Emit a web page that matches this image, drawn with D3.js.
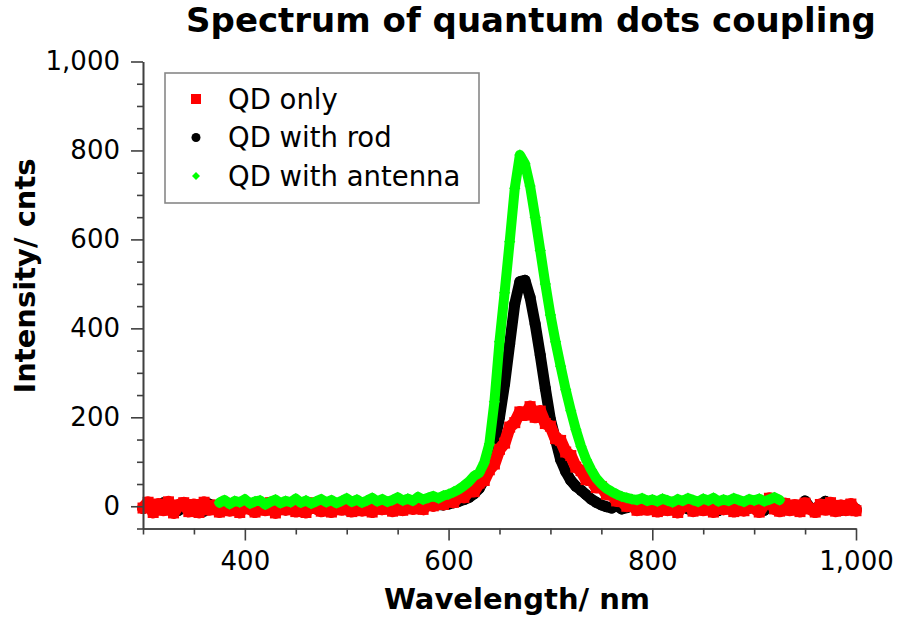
<!DOCTYPE html>
<html>
<head>
<meta charset="utf-8">
<script src="https://cdn.jsdelivr.net/npm/d3@7"></script>
<style>
  html, body { margin: 0; padding: 0; background: #fff; }
  svg { display: block; font-family: "DejaVu Sans", Verdana, sans-serif; }
</style>
</head>
<body>
<svg id="chart" width="899" height="622"></svg>
<script>
// ---- Data ----
const seriesNames = ["QD only", "QD with rod", "QD with antenna"];
const sampleStep = 5; // nm between samples
const redStart = 300, blackStart = 300, greenStart = 375;

// QD only (red squares), 300..1000 nm
const redValues = [
  -4, 9, -14, 5, -9, 10, -15, 3, 8, -12,
  4, -14, 9, -8, 2, -13, 7, -10, 3, -14,
  7, -6, -13, 5, -9, 8, -15, 2, -8, 6,
  -12, 3, -14, 7, -5, -11, 5, -13, 4, -8,
  8, -12, 2, -10, 6, -13, 4, -7, 8, -11,
  3, -9, 9, -6, 5, -7, 8, 1, 11, 4,
  13, 9, 22, 20, 34, 33, 52, 58, 82, 95,
  128, 142, 178, 188, 212, 205, 224, 200, 214, 186,
  180, 152, 148, 122, 114, 88, 80, 60, 58, 42,
  44, 27, 26, 12, 11, 0, 3, -9, 5, -8,
  6, -12, 3, -9, 8, -14, 0, 7, -11, 4,
  -9, 7, -13, 2, -7, 6, -12, 4, -10, 7,
  -4, -13, 5, 18, -6, -11, 6, -9, 3, -12,
  7, -6, -13, 4, -8, 8, -11, 2, -9, 5, -10
];

// QD with rod (black circles), 300..1000 nm
const blackValues = [
  -5, 2, -10, -3, 8, -6, -1, -9, 3, -4,
  -7, 0, -11, 5, -3, -8, 1, -6, -2, -9,
  4, -5, -10, -1, 2, -7, -3, 6, -8, -4,
  0, -9, -2, 3, -6, -10, -1, 5, -5, -3,
  -8, 1, -4, -9, 2, -6, 0, -3, 4, -7,
  -2, 0, -5, 3, -1, 2, 5, 1, 4, 3,
  5, 8, 11, 15, 20, 28, 40, 60, 92, 140,
  200, 275, 365, 455, 505, 508, 470, 410, 340, 265,
  195, 150, 105, 78, 58, 45, 36, 26, 16, 9,
  3, -1, -4, 2, -6, -3, 1, -7, -2, 4,
  -5, 0, -8, 3, -3, -9, 1, -6, 10, -2,
  -7, 2, -4, -10, 0, -5, 3, -8, -1, -4,
  2, -6, -9, 0, -3, 5, -7, -2, 1, -8,
  12, -4, -6, 3, 11, -5, -1, -9, 2, -3, -6
];

// QD with antenna (green diamonds), 375..925 nm
const greenValues = [
  8, 14, 5, 12, 9, 16, 6, 11, 13, 4,
  10, 15, 7, 12, 9, 17, 8, 13, 6, 11,
  16, 9, 14, 7, 12, 18, 10, 15, 8, 13,
  19, 11, 16, 10, 14, 20, 13, 17, 12, 21,
  15, 19, 23, 18, 24,
  27, 32, 38, 46, 55, 68, 75, 98, 140, 235,
  370, 480, 595, 715, 790, 770, 720, 650, 575, 500,
  430, 370, 315, 262, 215, 172, 135, 105, 82, 63,
  50, 40, 33, 27, 22, 19, 16, 14, 18, 12,
  15, 11, 17, 13, 9, 16, 12, 18, 14, 10,
  17, 13, 19, 11, 15, 12, 18, 14, 10, 16,
  13, 17, 11, 15, 20, 14
];

const xMajorTicks = [400, 600, 800, 1000];
const yMajorTicks = [0, 200, 400, 600, 800, 1000];
const titleText = "Spectrum of quantum dots coupling";
const xTitle = "Wavelength/ nm";
const yTitle = "Intensity/ cnts";

// ---- Build ----
const toPoints = (start, vals) => vals.map((v, i) => ({ x: start + i * sampleStep, y: v }));
const series = [
  { name: seriesNames[1], color: "#000000", shape: "circle", lw: 11, pts: toPoints(blackStart, blackValues) },
  { name: seriesNames[0], color: "#ff0000", shape: "square", lw: 12, pts: toPoints(redStart, redValues) },
  { name: seriesNames[2], color: "#00ff00", shape: "diamond", lw: 10, pts: toPoints(greenStart, greenValues) }
];

const svg = d3.select("#chart");
const x = d3.scaleLinear().domain([300, 1000]).range([143, 856]);
const y = d3.scaleLinear().domain([-50, 1000]).range([528.5, 61.5]);
const axisColor = "#404040";

// Plot series
const line = d3.line().x(d => x(d.x)).y(d => y(d.y)).curve(d3.curveLinear);
const plot = svg.append("g");
function drawMarker(sel, shape, color) {
  if (shape === "square") {
    sel.append("rect").attr("x", -5.5).attr("y", -5.5).attr("width", 11).attr("height", 11).attr("fill", color);
  } else if (shape === "circle") {
    sel.append("circle").attr("r", 5.5).attr("fill", color);
  } else {
    sel.append("path").attr("d", d3.symbol().type(d3.symbolSquare).size(64)()).attr("transform", "rotate(45)").attr("fill", color);
  }
}
series.forEach(s => {
  plot.append("path").datum(s.pts)
    .attr("d", line).attr("fill", "none").attr("stroke", s.color)
    .attr("stroke-width", s.lw)
    .attr("stroke-linejoin", "round").attr("stroke-linecap", "round");
  const g = plot.append("g");
  s.pts.forEach(p => {
    const m = g.append("g").attr("transform", `translate(${x(p.x)},${y(p.y)})`);
    drawMarker(m, s.shape, s.color);
  });
});

// Axes
function styleAxis(g) {
  g.selectAll("path.domain").attr("stroke", axisColor).attr("stroke-width", 1.6);
  g.selectAll(".tick line").attr("stroke", axisColor).attr("stroke-width", 1.6);
  g.selectAll(".tick text").attr("fill", "#000").attr("font-size", 26).attr("font-family", "DejaVu Sans, Verdana, sans-serif");
}
const yMinor = d3.range(-50, 1001, 50).filter(v => !yMajorTicks.includes(v));
const xMinor = d3.range(300, 1001, 50).filter(v => !xMajorTicks.includes(v));

svg.append("g").attr("transform", "translate(143,0)")
  .call(d3.axisLeft(y).tickValues(yMinor).tickSize(6).tickSizeOuter(0).tickFormat(""))
  .call(styleAxis);
svg.append("g").attr("transform", "translate(143,0)")
  .call(d3.axisLeft(y).tickValues(yMajorTicks).tickSize(12).tickSizeOuter(0).tickPadding(11).tickFormat(d3.format(",")))
  .call(styleAxis);
svg.append("g").attr("transform", "translate(0,528.5)")
  .call(d3.axisBottom(x).tickValues(xMinor).tickSize(6).tickSizeOuter(0).tickFormat(""))
  .call(styleAxis);
svg.append("g").attr("transform", "translate(0,528.5)")
  .call(d3.axisBottom(x).tickValues(xMajorTicks).tickSize(12).tickSizeOuter(0).tickPadding(11).tickFormat(d3.format(",")))
  .call(styleAxis);

// Titles
svg.append("text").attr("x", 531).attr("y", 32).attr("text-anchor", "middle")
  .attr("font-size", 34).attr("font-weight", "bold").text(titleText);
svg.append("text").attr("x", 517).attr("y", 609).attr("text-anchor", "middle")
  .attr("font-size", 29).attr("font-weight", "bold").text(xTitle);
svg.append("text").attr("transform", "translate(35,276) rotate(-90)").attr("text-anchor", "middle")
  .attr("font-size", 29).attr("font-weight", "bold").text(yTitle);

// Legend
const legend = svg.append("g");
legend.append("rect").attr("x", 165).attr("y", 73).attr("width", 314).attr("height", 130)
  .attr("fill", "#fff").attr("stroke", "#888").attr("stroke-width", 1.6);
const legendOrder = [
  { name: seriesNames[0], color: "#ff0000", shape: "square" },
  { name: seriesNames[1], color: "#000000", shape: "circle" },
  { name: seriesNames[2], color: "#00ff00", shape: "diamond" }
];
legendOrder.forEach((d, i) => {
  const cy = 99 + i * 38.5;
  const m = legend.append("g").attr("transform", `translate(196,${cy})`);
  if (d.shape === "square") m.append("rect").attr("x", -5).attr("y", -5).attr("width", 10).attr("height", 10).attr("fill", d.color);
  else if (d.shape === "circle") m.append("circle").attr("r", 4.5).attr("fill", d.color);
  else m.append("path").attr("d", d3.symbol().type(d3.symbolSquare).size(32)()).attr("transform", "rotate(45)").attr("fill", d.color);
  legend.append("text").attr("x", 228).attr("y", cy + 9.5).attr("font-size", 27.5).text(d.name);
});
</script>
</body>
</html>
